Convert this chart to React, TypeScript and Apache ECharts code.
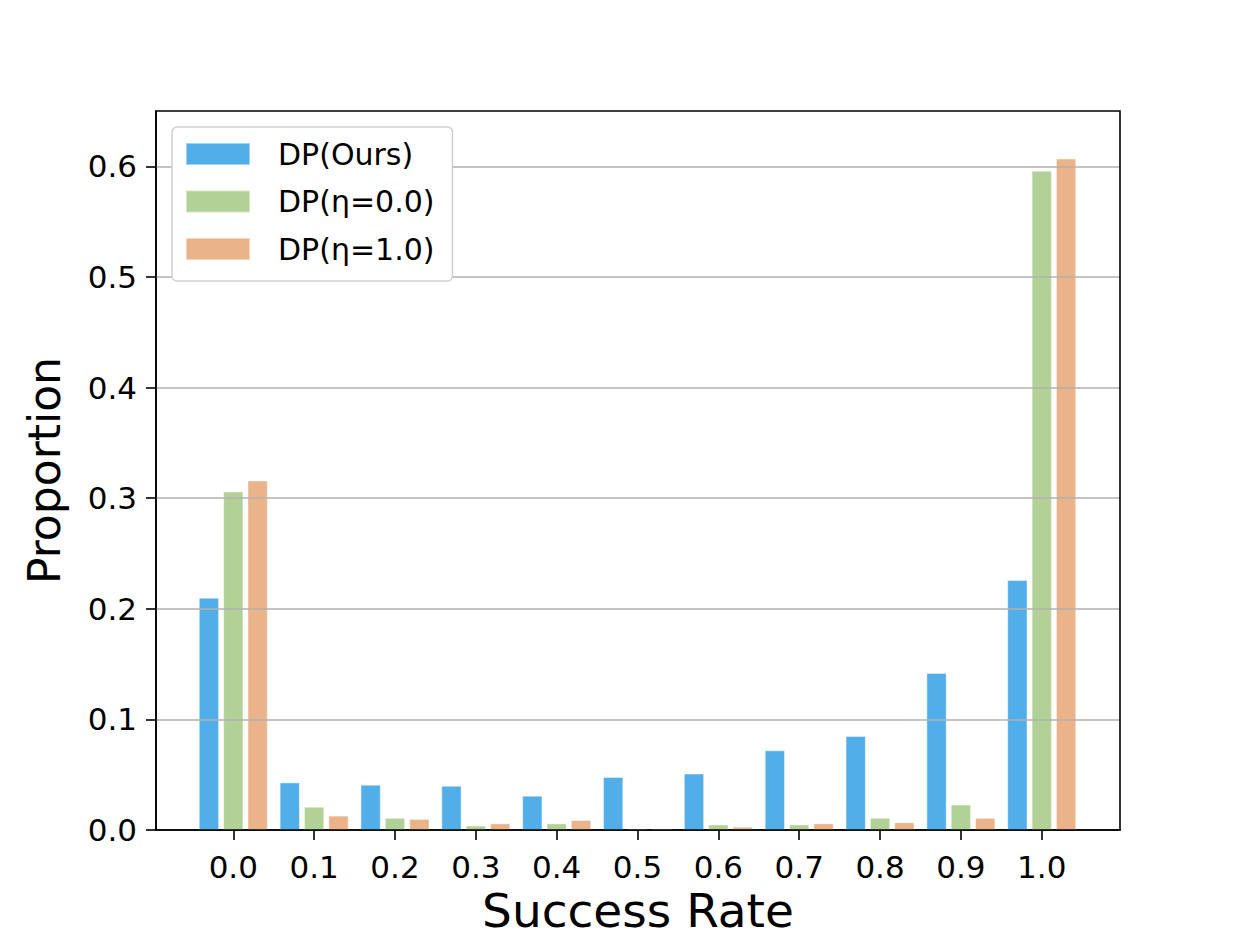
import React, { useEffect, useRef } from "react";
import * as echarts from "echarts";

const xPositions = [0, 1, 2, 3, 4, 5, 6, 7, 8, 9, 10];
const xTickLabels = ["0.0", "0.1", "0.2", "0.3", "0.4", "0.5", "0.6", "0.7", "0.8", "0.9", "1.0"];
const yTicks = [0, 0.1, 0.2, 0.3, 0.4, 0.5, 0.6];
const gridLines = [0.1, 0.2, 0.3, 0.4, 0.5, 0.6];

const seriesNames = ["DP(Ours)", "DP(η=0.0)", "DP(η=1.0)"];
const oursValues = [0.210, 0.043, 0.041, 0.040, 0.031, 0.048, 0.051, 0.072, 0.085, 0.142, 0.226];
const eta0Values = [0.306, 0.021, 0.011, 0.004, 0.006, 0.001, 0.005, 0.005, 0.011, 0.023, 0.596];
const eta1Values = [0.316, 0.013, 0.010, 0.006, 0.009, 0.001, 0.003, 0.006, 0.007, 0.011, 0.607];
const colors = ["#52AEE9", "#B2D196", "#EAB389"];

const FONT = "DejaVu Sans";

export default function App() {
  const ref = useRef<HTMLDivElement>(null);
  useEffect(() => {
    if (!ref.current) return;
    const chart = echarts.init(ref.current, undefined, { renderer: "svg" });
    const valuesList = [oursValues, eta0Values, eta1Values];
    const barSeries = valuesList.map((vals, k) => ({
      name: seriesNames[k],
      type: "bar",
      data: vals.map((v, i) => [xPositions[i], v]),
      barWidth: 20.3,
      barGap: "20%",
      itemStyle: { color: colors[k], borderColor: "rgba(255,255,255,0.45)", borderWidth: 1 },
      z: 2,
    }));
    const option: any = {
      animation: false,
      backgroundColor: "#ffffff",
      textStyle: { fontFamily: FONT, color: "#000" },
      grid: {
        left: 156,
        right: 125,
        top: 111,
        bottom: 104,
        outerBoundsMode: "none",
        containLabel: false,
        show: true,
        borderColor: "#000",
        borderWidth: 1.6,
        backgroundColor: "transparent",
        z: 10,
      },
      legend: {
        left: 172,
        top: 127,
        orient: "vertical",
        icon: "rect",
        itemWidth: 64,
        itemHeight: 22,
        itemGap: 17.5,
        padding: [12, 18, 17, 13],
        backgroundColor: "#ffffff",
        borderColor: "#d0d0d0",
        borderWidth: 1.5,
        borderRadius: 5,
        data: seriesNames,
        textStyle: {
          fontFamily: FONT,
          fontSize: 30,
          lineHeight: 30,
          color: "#000",
          padding: [0, 0, 0, 23],
        },
        z: 20,
      },
      xAxis: {
        type: "value",
        min: -0.956,
        max: 10.968,
        name: "Success Rate",
        nameLocation: "middle",
        nameGap: 58,
        nameTextStyle: { fontFamily: FONT, fontSize: 47, lineHeight: 40, color: "#000" },
        axisLine: { show: true, onZero: false, lineStyle: { color: "#000", width: 1.6 } },
        axisTick: {
          show: true,
          length: 10,
          lineStyle: { color: "#000", width: 1.6 },
          customValues: xPositions,
        },
        axisLabel: {
          fontFamily: FONT,
          fontSize: 31,
          color: "#000",
          margin: 21,
          customValues: xPositions,
          formatter: (v: number) => {
            const i = xPositions.indexOf(Math.round(v));
            return i >= 0 ? xTickLabels[i] : "";
          },
        },
        splitLine: { show: false },
      },
      yAxis: {
        type: "value",
        min: 0,
        max: 0.65,
        name: "Proportion",
        nameLocation: "middle",
        nameGap: 90,
        nameTextStyle: { fontFamily: FONT, fontSize: 44, color: "#000" },
        axisLine: { show: true, onZero: false, lineStyle: { color: "#000", width: 1.6 } },
        axisTick: {
          show: true,
          length: 10,
          lineStyle: { color: "#000", width: 1.6 },
          customValues: yTicks,
        },
        axisLabel: {
          fontFamily: FONT,
          fontSize: 31,
          color: "#000",
          margin: 19,
          customValues: yTicks,
          formatter: (v: number) => v.toFixed(1),
        },
        splitLine: { show: false },
      },
      series: [
        ...barSeries,
        {
          type: "line",
          data: [],
          silent: true,
          z: 5,
          markLine: {
            silent: true,
            symbol: ["none", "none"],
            label: { show: false },
            lineStyle: { color: "#b0b0b0", width: 1.6, type: "solid" },
            data: gridLines.map((g) => ({ yAxis: g })),
            z: 5,
          },
        },
      ],
    };
    chart.setOption(option);
    return () => chart.dispose();
  }, []);
  return (
    <div
      ref={ref}
      style={{ position: "absolute", left: 0, top: 0, width: 1245, height: 934 }}
    />
  );
}
